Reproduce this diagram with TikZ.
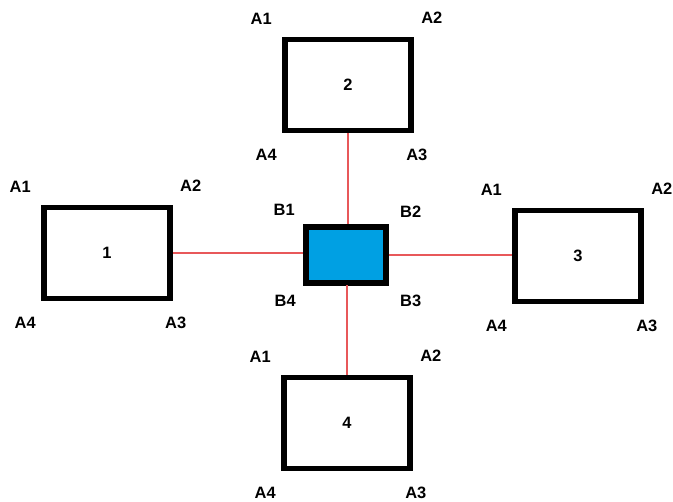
\documentclass[tikz,border=0pt]{standalone}
\usepackage{fontspec}
\setmainfont{Liberation Sans}
\usetikzlibrary{positioning}
\definecolor{linkc}{HTML}{E8585A}
\definecolor{hubc}{HTML}{00A0E3}

\begin{document}
\begin{tikzpicture}[x=1bp,y=-1bp,
  font=\fontsize{16.5}{18}\selectfont\bfseries,
  unit/.style={draw, line width=5.5bp, minimum width=126bp, minimum height=91bp, inner sep=0pt},
  hub/.style={draw, fill=hubc, line width=5.5bp, minimum width=80bp, minimum height=56bp},
  link/.style={color=linkc, line width=1.4bp}]
\useasboundingbox (0,0) rectangle (673,502);

\node[unit] (u1) at (107,253) {1};
\node[unit] (u2) at (348,85)  {2};
\node[unit] (u3) at (578,256) {3};
\node[unit] (u4) at (347,423) {4};
\node[hub]  (b)  at (346,255) {};

\draw[link] (u1.east) -- (u1.east -| b.west);
\draw[link] (b.east) -- (b.east -| u3.west);
\draw[link] (u2.south) -- (u2.south |- b.north);
\draw[link] (b.south) -- (b.south -| u4.north) -- (u4.north);

\foreach \u in {u1,u2,u3,u4} {
  \node at ([shift={(-21,-18)}]\u.north west) {A1};
  \node at ([shift={(18,-19)}]\u.north east) {A2};
  \node at ([shift={(3,22)}]\u.south east) {A3};
  \node at ([shift={(-16,22)}]\u.south west) {A4};
}

\node at ([shift={(-19,-14)}]b.north west) {B1};
\node at ([shift={(22,-12)}]b.north east) {B2};
\node at ([shift={(22,15)}]b.south east) {B3};
\node at ([shift={(-18,15)}]b.south west) {B4};
\end{tikzpicture}
\end{document}
